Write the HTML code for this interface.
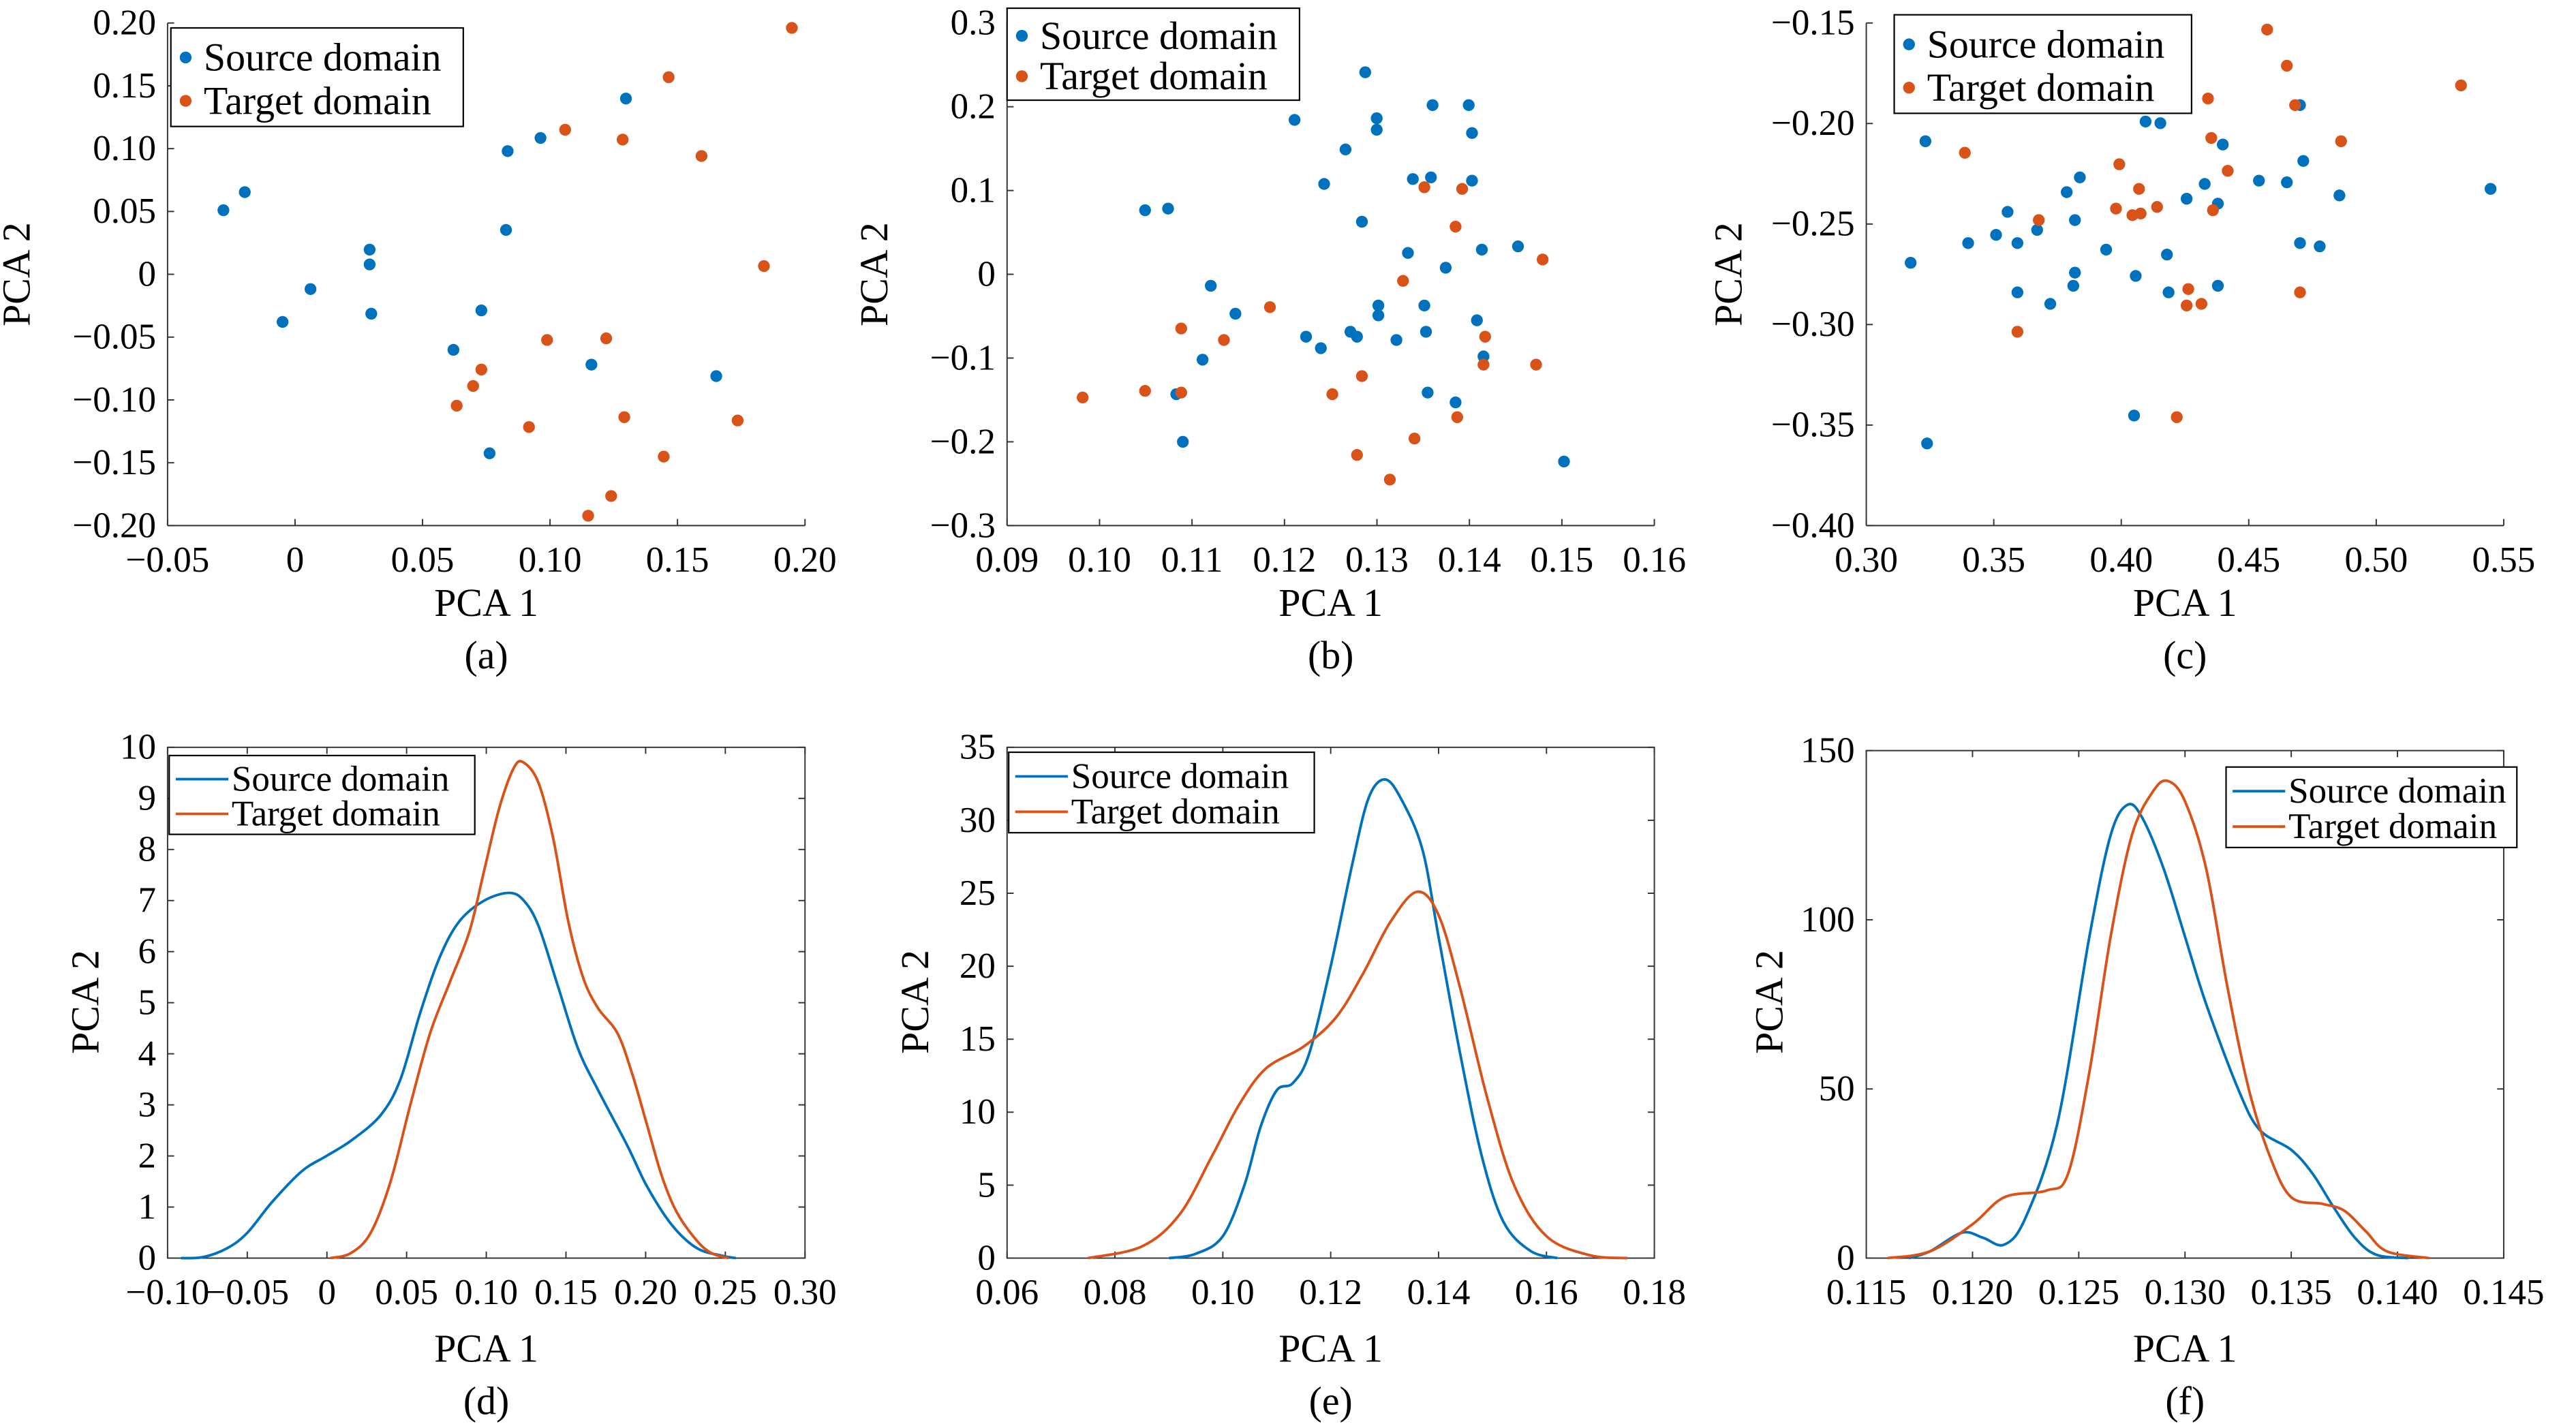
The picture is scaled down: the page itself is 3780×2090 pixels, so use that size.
<!DOCTYPE html>
<html><head><meta charset="utf-8"><style>
html,body{margin:0;padding:0;background:#fff}
svg{display:block}
text{font-family:"Liberation Serif","DejaVu Serif",serif;fill:#000}
</style></head><body>
<svg id="s" width="3780" height="2090" viewBox="0 0 1568 867" preserveAspectRatio="none" xmlns="http://www.w3.org/2000/svg" font-family="Liberation Serif, DejaVu Serif, serif"></svg>
<script>
const S=document.getElementById('s');const NS='http://www.w3.org/2000/svg';
const B='#0072BD',O='#D95319';
function el(t,a,txt){const e=document.createElementNS(NS,t);if(t==='text'){e.setAttribute('font-family','Liberation Serif, DejaVu Serif, serif');e.style.fontFamily='"Liberation Serif","DejaVu Serif",serif';}for(const k in a)e.setAttribute(k,a[k]);if(txt!==undefined)e.textContent=txt;S.appendChild(e);return e;}
function fmt(v,d){let s=Math.abs(v)<1e-12?'0':v.toFixed(d);if(s.startsWith('-'))s='\u2212'+s.slice(1);return s;}
function panel(p){
 const {x0,x1,y0,y1,xl,yl,xt,yt,xd,yd,box}=p;
 const X=v=>x0+(v-xl[0])/(xl[1]-xl[0])*(x1-x0);
 const Y=v=>y1-(v-yl[0])/(yl[1]-yl[0])*(y1-y0);
 if(box) el('rect',{x:x0,y:y0,width:x1-x0,height:y1-y0,fill:'none',stroke:'#333','stroke-width':0.8});
 else { el('line',{x1:x0,y1:y0,x2:x0,y2:y1,stroke:'#333','stroke-width':0.8}); el('line',{x1:x0,y1:y1,x2:x1,y2:y1,stroke:'#333','stroke-width':0.8}); }
 xt.forEach(v=>{const x=X(v);el('line',{x1:x,y1:y1,x2:x,y2:y1-4,stroke:'#333','stroke-width':0.8});if(box)el('line',{x1:x,y1:y0,x2:x,y2:y0+4,stroke:'#333','stroke-width':0.8});
  el('text',{x:x,y:y1+28,'font-size':22,'text-anchor':'middle'},fmt(v,xd));});
 yt.forEach(v=>{const y=Y(v);el('line',{x1:x0,y1:y,x2:x0+4,y2:y,stroke:'#333','stroke-width':0.8});if(box)el('line',{x1:x1,y1:y,x2:x1-4,y2:y,stroke:'#333','stroke-width':0.8});
  el('text',{x:x0-7,y:y+7,'font-size':22,'text-anchor':'end'},fmt(v,yd));});
 return [X,Y];
}
function dots(pts,c){pts.forEach(p=>el('circle',{cx:p[0],cy:p[1],r:3.6,fill:c}));}
function curve(pts,X,Y,c){const P=pts.map(p=>[X(p[0]),Y(p[1])]);let d='M'+P[0][0]+','+P[0][1];
 for(let i=0;i<P.length-1;i++){const p0=P[Math.max(0,i-1)],p1=P[i],p2=P[i+1],p3=P[Math.min(P.length-1,i+2)];
  d+=` C${p1[0]+(p2[0]-p0[0])/6},${p1[1]+(p2[1]-p0[1])/6} ${p2[0]-(p3[0]-p1[0])/6},${p2[1]-(p3[1]-p1[1])/6} ${p2[0]},${p2[1]}`;}
 el('path',{d:d,fill:'none',stroke:c,'stroke-width':1.6});}
function legend(x,y,w,h,line){el('rect',{x:x,y:y,width:w,height:h,fill:'#fff',stroke:'#000','stroke-width':0.9});
 const r1=y+h*0.30,r2=y+h*0.74;
 if(line){el('line',{x1:x+4,y1:r1,x2:x+36,y2:r1,stroke:B,'stroke-width':1.6});el('line',{x1:x+4,y1:r2,x2:x+36,y2:r2,stroke:O,'stroke-width':1.6});
  el('text',{x:x+38,y:r1+7,'font-size':22},'Source domain');el('text',{x:x+38,y:r2+7,'font-size':22},'Target domain');}
 else{el('circle',{cx:x+9,cy:r1,r:3.6,fill:B});el('circle',{cx:x+9,cy:r2,r:3.6,fill:O});
  el('text',{x:x+20,y:r1+8,'font-size':24},'Source domain');el('text',{x:x+20,y:r2+8,'font-size':24},'Target domain');}}
function labels(cx,ylx,yc,xy,cap,capy){el('text',{x:cx,y:xy,'font-size':24,'text-anchor':'middle'},'PCA 1');
 el('text',{x:ylx,y:yc,'font-size':24,'text-anchor':'middle',transform:`rotate(-90 ${ylx} ${yc})`},'PCA 2');
 el('text',{x:cx,y:capy,'font-size':24,'text-anchor':'middle'},cap);}
const r=(a,b,s)=>{const o=[];for(let v=a;v<=b+s/2;v+=s)o.push(+v.toFixed(6));return o;};
// (a)
panel({x0:102,x1:490,y0:14,y1:320,xl:[-0.05,0.2],yl:[-0.2,0.2],xt:r(-0.05,0.2,0.05),yt:r(-0.2,0.2,0.05),xd:2,yd:2});
dots([[136,128],[149,117],[172,196],[189,176],[225,152],[225,161],[226,191],[276,213],[293,189],[309,92],[308,140],[329,84],[360,222],[381,60],[436,229],[298,276]],B);
dots([[482,17],[407,47],[344,79],[379,85],[427,95],[465,162],[333,207],[369,206],[293,225],[288,235],[278,247],[322,260],[380,254],[449,256],[404,278],[372,302],[358,314]],O);
legend(104,17,178,60,false);labels(296,18,167,375,'(a)',407);
// (b)
panel({x0:613,x1:1007,y0:14,y1:320,xl:[0.09,0.16],yl:[-0.3,0.3],xt:r(0.09,0.16,0.01),yt:r(-0.3,0.3,0.1),xd:2,yd:1});
dots([[697,128],[711,127],[737,174],[752,191],[720,269],[732,219],[716,240],[788,73],[806,112],[819,91],[831,44],[838,72],[838,79],[872,64],[894,64],[896,81],[871,108],[860,109],[896,110],[829,135],[857,154],[880,163],[902,152],[924,150],[867,186],[899,195],[903,217],[868,202],[804,212],[822,202],[826,205],[839,186],[839,192],[850,207],[869,239],[886,245],[795,205],[952,281]],B);
dots([[659,242],[697,238],[719,239],[719,200],[745,207],[773,187],[811,240],[829,229],[826,277],[846,292],[861,267],[854,171],[867,114],[890,115],[886,138],[887,254],[903,222],[904,205],[935,222],[939,158]],O);
legend(613,5,178,56,false);labels(810,540,167,375,'(b)',407);
// (c)
panel({x0:1136,x1:1524,y0:14,y1:320,xl:[0.3,0.55],yl:[-0.4,-0.15],xt:r(0.3,0.55,0.05),yt:r(-0.4,-0.15,0.05),xd:2,yd:2});
dots([[1163,160],[1172,86],[1173,270],[1198,148],[1215,143],[1222,129],[1240,140],[1228,148],[1228,178],[1258,117],[1263,166],[1266,108],[1282,152],[1306,74],[1315,75],[1319,155],[1331,121],[1300,168],[1262,174],[1248,185],[1299,253],[1342,112],[1350,124],[1353,88],[1375,110],[1392,111],[1400,148],[1400,64],[1402,98],[1424,119],[1412,150],[1516,115],[1263,134],[1350,174],[1320,178]],B);
dots([[1196,93],[1228,202],[1241,134],[1288,127],[1290,100],[1302,115],[1303,130],[1298,131],[1313,126],[1332,176],[1331,186],[1325,254],[1344,60],[1346,84],[1347,128],[1356,104],[1380,18],[1392,40],[1397,64],[1400,178],[1425,86],[1498,52],[1340,185]],O);
legend(1153,9,181,60,false);labels(1330,1060,167,375,'(c)',407);
// (d)
let [X,Y]=panel({x0:102,x1:490,y0:455,y1:766,xl:[-0.1,0.3],yl:[0,10],xt:r(-0.1,0.3,0.05),yt:r(0,10,1),xd:2,yd:0,box:true});
const zx=v=>(v-128)/1292*0.4-0.1;
curve([[155,0],[200,0.02],[250,0.2],[290,0.5],[340,1.1],[400,1.7],[450,2.0],[500,2.3],[560,2.8],[600,3.5],[640,4.8],[680,5.9],[720,6.6],[770,7.0],[820,7.15],[850,7.0],[880,6.5],[920,5.3],[960,4.1],[1000,3.3],[1060,2.2],[1100,1.4],[1150,0.65],[1200,0.2],[1250,0.05],[1280,0]].map(p=>[zx(p[0]),p[1]]),X,Y,B);
curve([[458,0],[500,0.1],[540,0.5],[580,1.5],[620,3.0],[660,4.4],[700,5.4],[740,6.4],[770,7.6],[800,8.8],[830,9.6],[850,9.7],[880,9.3],[910,8.2],[940,6.6],[970,5.5],[1000,4.9],[1040,4.4],[1070,3.6],[1100,2.6],[1130,1.6],[1160,0.9],[1200,0.35],[1230,0.1],[1265,0]].map(p=>[zx(p[0]),p[1]]),X,Y,O);
legend(103,460,186,48,true);labels(296,60,610,829,'(d)',861);
// (e)
[X,Y]=panel({x0:613,x1:1007,y0:455,y1:766,xl:[0.06,0.18],yl:[0,35],xt:r(0.06,0.18,0.02),yt:r(0,35,5),xd:2,yd:0,box:true});
curve([[0.090,0],[0.095,0.3],[0.100,1.5],[0.104,5],[0.107,9],[0.110,11.5],[0.113,12],[0.116,14],[0.120,20],[0.124,27],[0.127,31.5],[0.130,32.8],[0.133,31.5],[0.137,28],[0.140,22],[0.144,14],[0.148,7],[0.152,2.5],[0.157,0.5],[0.162,0]],X,Y,B);
curve([[0.075,0],[0.085,0.8],[0.092,3],[0.098,7],[0.103,10.5],[0.108,13],[0.115,14.5],[0.121,16.5],[0.126,19.5],[0.131,23],[0.136,25.1],[0.140,23.5],[0.144,18.5],[0.149,11],[0.154,5],[0.160,1.5],[0.168,0.2],[0.175,0]],X,Y,O);
legend(614,458,186,49,true);labels(810,565,610,829,'(e)',861);
// (f)
[X,Y]=panel({x0:1136,x1:1524,y0:457,y1:766,xl:[0.115,0.145],yl:[0,150],xt:r(0.115,0.145,0.005),yt:r(0,150,50),xd:3,yd:0,box:true});
curve([[0.117,0],[0.118,2],[0.1195,7.5],[0.1205,6],[0.1215,4],[0.1225,12],[0.124,40],[0.1255,95],[0.1265,125],[0.1273,134],[0.128,130],[0.129,115],[0.130,95],[0.131,75],[0.1325,50],[0.1335,38],[0.135,32],[0.136,25],[0.137,15],[0.138,6],[0.139,1],[0.1405,0]],X,Y,B);
curve([[0.116,0],[0.118,2],[0.120,10],[0.1215,18],[0.1235,20],[0.1245,25],[0.1255,55],[0.1265,95],[0.1275,125],[0.1285,138],[0.1292,141],[0.130,135],[0.131,115],[0.132,80],[0.133,50],[0.134,30],[0.135,18],[0.1365,16],[0.1375,14],[0.1385,8],[0.1395,2],[0.1415,0]],X,Y,O);
legend(1355,467,177,49,true);labels(1330,1085,610,829,'(f)',861);
</script>
</body></html>
